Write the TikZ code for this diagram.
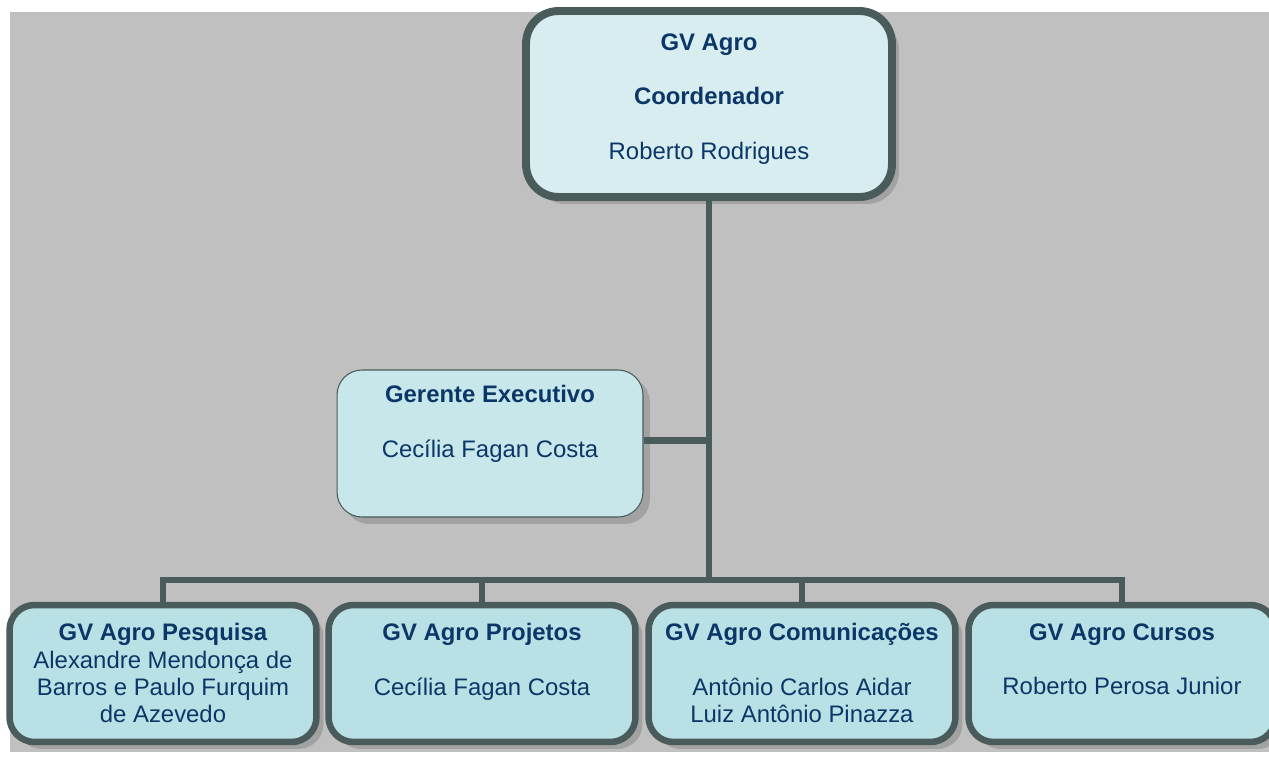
\documentclass[tikz,border=0pt]{standalone}
\usepackage{fontspec}
\setmainfont{Liberation Sans}
\usepackage{tikz}
\usetikzlibrary{shadows}

\definecolor{bggray}{HTML}{C0C0C0}
\definecolor{edgegray}{HTML}{4A5B5B}
\definecolor{shadowgray}{HTML}{A2A2A2}
\definecolor{topfill}{HTML}{D8EDF0}
\definecolor{gerfill}{HTML}{C8E7EA}
\definecolor{unitfill}{HTML}{B9E1E5}
\definecolor{navy}{HTML}{0B3768}

\newlength\blankline
\setlength\blankline{15.6pt}

\tikzset{
  boxbase/.style={rectangle, draw=edgegray, rounded corners=0.5cm,
    drop shadow={shadow xshift=0.14cm, shadow yshift=-0.14cm, fill=shadowgray, opacity=1}},
  chief/.style={boxbase, fill=topfill, line width=4.5pt, rounded corners=0.65cm,
    minimum width=7.32cm, minimum height=3.72cm},
  staff/.style={boxbase, fill=gerfill, line width=0.6pt,
    minimum width=6.12cm, minimum height=2.94cm},
  unit/.style={boxbase, fill=unitfill, line width=3.7pt,
    minimum width=6.14cm, minimum height=2.74cm},
  boxtext/.style={anchor=north, inner sep=0pt, align=center, text=navy,
    font=\fontsize{13.6pt}{15.6pt}\selectfont},
  link/.style={draw=edgegray, line width=3.7pt}
}

\begin{document}
\begin{tikzpicture}[x=0.02cm, y=-0.02cm]
        \useasboundingbox (0,0) rectangle (1269,757);
        \fill[bggray] (10,12) rectangle (1280,752);

        % boxes
        \node[chief] (top) at (709,104) {};
        \node[staff] (ger) at (490,443.5) {};
        \node[unit] (pesq) at (163,673.5) {};
        \node[unit] (proj) at (482,673.5) {};
        \node[unit] (comm) at (802,673.5) {};
        \node[unit] (curs) at (1122,673.5) {};

        % texts
        \node[boxtext] (top-t) at (709,33) {\textbf{GV Agro}\\[\blankline]\textbf{Coordenador}\\[\blankline]Roberto Rodrigues};
        \node[boxtext] (ger-t) at (490,385) {\textbf{Gerente Executivo}\\[\blankline]Cecília Fagan Costa};
        \node[boxtext] (pesq-t) at (163,623) {\textbf{GV Agro Pesquisa}\\Alexandre Mendonça de\\Barros e Paulo Furquim\\de Azevedo};
        \node[boxtext] (proj-t) at (482,623) {\textbf{GV Agro Projetos}\\[\blankline]Cecília Fagan Costa};
        \node[boxtext] (comm-t) at (802,623) {\textbf{GV Agro Comunicações}\\[\blankline]Antônio Carlos Aidar\\Luiz Antônio Pinazza};
        \node[boxtext] (curs-t) at (1122,623) {\textbf{GV Agro Cursos}\\[\blankline]Roberto Perosa Junior};

        % connectors
        \coordinate (bus) at (709,580);
        \coordinate (tap) at (709,440.5);
        \draw[link] (top.south) -- (bus);
        \draw[link] (tap -| ger.east) -- (tap);
        \draw[link] (pesq.north) |- (bus) -| (curs.north);
        \foreach \u in {proj, comm}
        \draw[link] (\u.north) -- (\u.north |- bus);
\end{tikzpicture}
\end{document}
